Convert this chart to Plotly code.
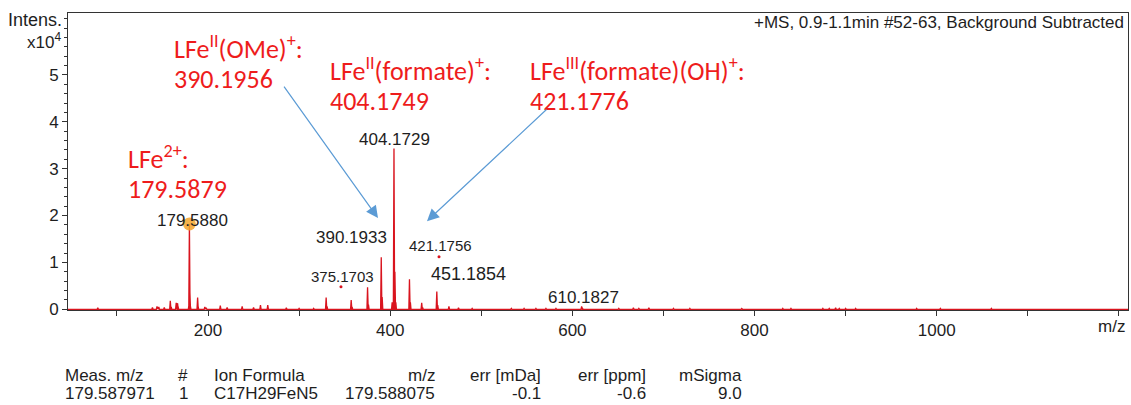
import plotly.graph_objects as go

# ---------------- data ----------------
# stick peaks of the spectrum: m/z and intensity (in units of 10^4 counts)
peak_mz = [79.0, 139.0, 144.0, 146.0, 152.0, 158.6, 159.6, 165.1, 166.6, 167.1,
           179.09, 179.588, 180.09, 180.59, 188.6, 189.1, 196.5, 198.0, 213.5, 221.0,
           237.5, 250.0, 257.6, 265.6, 286.0, 300.0, 316.0, 329.7, 330.7, 357.2,
           358.2, 375.17, 376.17, 390.19, 391.19, 402.17, 404.17, 405.18, 406.18,
           421.18, 422.18, 434.6, 435.6, 451.19, 452.19, 464.5, 475.0, 490.0,
           533.0, 547.0, 560.0, 571.0, 582.0, 610.18, 611.18, 651.0, 667.0, 673.0,
           684.0, 711.0, 729.0, 786.0, 831.0, 840.0, 849.0, 875.0, 882.0, 889.0,
           893.0, 900.0, 911.0, 922.0, 933.0, 978.0, 1004.0, 1026.0, 1060.0]
peak_int = [0.03, 0.04, 0.06, 0.05, 0.04, 0.18, 0.05, 0.14, 0.13, 0.06,
            0.10, 1.82, 0.38, 0.08, 0.25, 0.07, 0.05, 0.03, 0.08, 0.04,
            0.06, 0.04, 0.09, 0.09, 0.03, 0.02, 0.02, 0.25, 0.06, 0.20,
            0.05, 0.47, 0.10, 1.11, 0.26, 0.15, 3.43, 0.80, 0.15,
            0.64, 0.15, 0.14, 0.04, 0.38, 0.09, 0.06, 0.03, 0.02,
            0.02, 0.02, 0.02, 0.02, 0.02, 0.06, 0.02, 0.02, 0.03, 0.02,
            0.03, 0.02, 0.02, 0.015, 0.02, 0.02, 0.015, 0.02, 0.02, 0.03,
            0.02, 0.02, 0.02, 0.015, 0.015, 0.02, 0.02, 0.015, 0.02]

# labelled peaks (black labels)
label_mz = [179.588, 404.17, 390.19, 375.17, 421.18, 451.19, 610.18]
label_int = [1.82, 3.43, 1.11, 0.47, 0.64, 0.38, 0.06]
label_text = ["179.5880", "404.1729", "390.1933", "375.1703", "421.1756", "451.1854", "610.1827"]

# selected precursor marker
marked_mz = [179.588]
marked_int = [1.82]

# small red label-anchor dots
dot_mz = [346.0, 453.6]
dot_int = [0.48, 1.12]

# red assignment texts
assign_titles = ["LFe<sup>2+</sup>:", "LFe<sup>II</sup>(OMe)<sup>+</sup>:",
                 "LFe<sup>II</sup>(formate)<sup>+</sup>:", "LFe<sup>III</sup>(formate)(OH)<sup>+</sup>:"]
assign_values = ["179.5879", "390.1956", "404.1749", "421.1776"]

# arrows (tip at m/z, intensity)
arrow_mz = [386.6, 440.4]
arrow_int = [1.945, 1.88]

x_tick_vals = [100, 200, 300, 400, 500, 600, 700, 800, 900, 1000, 1100, 1200]
x_tick_text = ["", "200", "", "400", "", "600", "", "800", "", "1000", "", ""]
y_tick_vals = [0, 1, 2, 3, 4, 5]
y_tick_text = ["0", "1", "2", "3", "4", "5"]

header_text = "+MS, 0.9-1.1min #52-63, Background Subtracted"
table_headers = ["Meas. m/z", "#", "Ion Formula", "m/z", "err [mDa]", "err [ppm]", "mSigma"]
table_row = ["179.587971", "1", "C17H29FeN5", "179.588075", "-0.1", "-0.6", "9.0"]

# ---------------- styling ----------------
X_RANGE = [46.3, 1210]
Y_RANGE = [-0.015, 6.32]
RED = "#d9141e"
TXT_RED = "#ee1c1c"
BLUE = "#5b9bd5"
AX = "#333333"
INK = "#1e1e1e"
FONT = "Liberation Sans, Arial, sans-serif"
RFONT = "Carlito, Lato, Open Sans, sans-serif"

W, H = 1131, 405
ML, MR, MT, MB = 68, 3, 13, 95
PW = W - ML - MR
PH = H - MT - MB


def px2paper(px, py):
    """page pixel -> paper coordinates"""
    return (px - ML) / PW, (H - MB - py) / PH


# build stick spectrum polyline
xs, ys = [X_RANGE[0]], [0.0]
for m, h in sorted(zip(peak_mz, peak_int)):
    xs += [m - 0.7, m, m + 0.7]
    ys += [0.0, h, 0.0]
xs.append(X_RANGE[1])
ys.append(0.0)

fig = go.Figure()
fig.add_trace(go.Scatter(x=xs, y=ys, mode="lines", line=dict(color=RED, width=1.3),
                         hoverinfo="skip", showlegend=False))
fig.add_trace(go.Scatter(x=dot_mz, y=dot_int, mode="markers",
                         marker=dict(color=RED, size=3), hoverinfo="skip", showlegend=False))
fig.add_trace(go.Scatter(x=marked_mz, y=marked_int, mode="markers",
                         marker=dict(color="rgba(243,166,45,0.85)", size=13),
                         hoverinfo="skip", showlegend=False))

annotations = []

# black peak labels: (xshift, yshift, size)
label_style = [(3, 3, 17), (1, 9, 17), (-30, 20, 17), (-25, 11, 15),
               (31, 34, 15), (32, 17, 18), (2, 9, 17)]
for m, h, t, (dx, dy, fs) in zip(label_mz, label_int, label_text, label_style):
    annotations.append(dict(x=m, y=h, xref="x", yref="y", text=t, showarrow=False,
                            xshift=dx, yshift=dy, xanchor="center", yanchor="middle",
                            font=dict(family=FONT, size=fs, color=INK)))

# red assignment labels (page pixel positions of left edge / line centres)
assign_pos = [(126, 157, 189), (172, 47, 79), (328, 69, 101), (528, 69, 101)]
for title, val, (lx, ty, vy) in zip(assign_titles, assign_values, assign_pos):
    px, py = px2paper(lx, ty)
    annotations.append(dict(x=px, y=py, xref="paper", yref="paper", text=title,
                            showarrow=False, xanchor="left", yanchor="middle",
                            font=dict(family=RFONT, size=26, color=TXT_RED)))
    px, py = px2paper(lx, vy)
    annotations.append(dict(x=px, y=py, xref="paper", yref="paper", text=val,
                            showarrow=False, xanchor="left", yanchor="middle",
                            font=dict(family=RFONT, size=26, color=TXT_RED)))

# arrows
arrow_offsets = [(-95, -133), (121, -113)]
for m, h, (ax, ay) in zip(arrow_mz, arrow_int, arrow_offsets):
    annotations.append(dict(x=m, y=h, xref="x", yref="y", ax=ax, ay=ay, text="",
                            showarrow=True, arrowhead=2, arrowsize=2, arrowwidth=1.2,
                            arrowcolor=BLUE))

# axis captions
for t, px, py, fs in [("Intens.", 64, 20, 18), ("x10<sup>4</sup>", 63, 41, 17)]:
    x0, y0 = px2paper(px, py)
    annotations.append(dict(x=x0, y=y0, xref="paper", yref="paper", text=t, showarrow=False,
                            xanchor="right", yanchor="middle",
                            font=dict(family=FONT, size=fs, color=INK)))
x0, y0 = px2paper(1127, 326)
annotations.append(dict(x=x0, y=y0, xref="paper", yref="paper", text="m/z", showarrow=False,
                        xanchor="right", yanchor="middle",
                        font=dict(family=FONT, size=17, color=INK)))
x0, y0 = px2paper(1126, 23)
annotations.append(dict(x=x0, y=y0, xref="paper", yref="paper", text=header_text,
                        showarrow=False, xanchor="right", yanchor="middle",
                        font=dict(family=FONT, size=17, color=INK)))

# result table
col_pos = [(63, "left"), (183, "center"), (212, "left"), (437, "right"),
           (543, "right"), (648, "right"), (744, "right")]
for row, ry in [(table_headers, 375), (table_row, 393)]:
    for t, (cx, anc) in zip(row, col_pos):
        x0, y0 = px2paper(cx, ry)
        annotations.append(dict(x=x0, y=y0, xref="paper", yref="paper", text=t,
                                showarrow=False, xanchor=anc, yanchor="middle",
                                font=dict(family=FONT, size=17, color=INK)))

fig.update_layout(
    width=W, height=H,
    margin=dict(l=ML, r=MR, t=MT, b=MB),
    paper_bgcolor="white", plot_bgcolor="white",
    font=dict(family=FONT, color=INK),
    showlegend=False,
    hovermode=False,
    annotations=annotations,
    xaxis=dict(range=X_RANGE, tickmode="array", tickvals=x_tick_vals, ticktext=x_tick_text,
               ticks="outside", ticklen=5, tickcolor=AX, showline=True, linecolor=AX,
               linewidth=1, mirror=True, showgrid=False, zeroline=False,
               tickfont=dict(size=17, color=INK)),
    yaxis=dict(range=Y_RANGE, tickmode="array", tickvals=y_tick_vals, ticktext=y_tick_text,
               ticks="outside", ticklen=5, tickcolor=AX, showline=True, linecolor=AX,
               linewidth=1, mirror=True, showgrid=False, zeroline=False,
               tickfont=dict(size=17, color=INK),
               minor=dict(tickmode="linear", tick0=0, dtick=0.2, ticks="outside",
                          ticklen=3, tickcolor=AX, showgrid=False)),
)

fig.write_html("out.html",
               config={"displayModeBar": False, "staticPlot": True},
               post_script="document.body.style.margin='0px';"
                           "document.body.style.overflow='hidden';")
